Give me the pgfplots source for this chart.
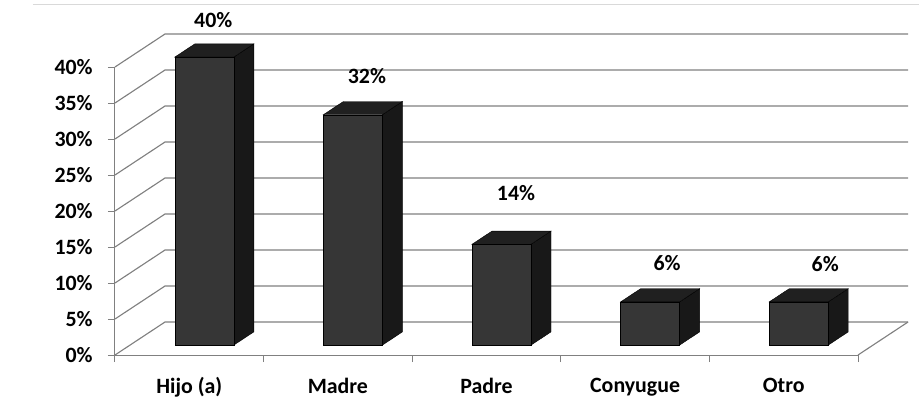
\documentclass[border=0pt]{standalone}
\usepackage{pgfplots}
\pgfplotsset{compat=1.18}
\usepackage{pgfplotstable}
\usepackage{fontspec}
\setmainfont{Carlito}
\definecolor{gl}{RGB}{128,128,128}
\definecolor{barfront}{RGB}{54,54,54}
\definecolor{barside}{RGB}{24,24,24}
\definecolor{bartop}{RGB}{32,32,32}
\definecolor{border}{RGB}{217,217,217}
\newdimen\barh
\pgfdeclareplotmark{bar3d}{%
  \barh=5.4pt \barh=\barval\barh
  \pgfsetlinewidth{0.3pt}%
  \pgfsetstrokecolor{black}%
  \pgfsetfillcolor{barside}%
  \pgfpathmoveto{\pgfqpoint{33.375pt}{7.425pt}}%
  \pgfpathlineto{\pgfqpoint{48.375pt}{17.325pt}}%
  \pgfpathlineto{\pgfqpoint{48.375pt}{\dimexpr17.325pt-\barh\relax}}%
  \pgfpathlineto{\pgfqpoint{33.375pt}{\dimexpr7.425pt-\barh\relax}}%
  \pgfpathclose
  \pgfusepath{fill,stroke}%
  \pgfsetfillcolor{bartop}%
  \pgfpathmoveto{\pgfqpoint{-10.875pt}{7.425pt}}%
  \pgfpathlineto{\pgfqpoint{4.125pt}{17.325pt}}%
  \pgfpathlineto{\pgfqpoint{48.375pt}{17.325pt}}%
  \pgfpathlineto{\pgfqpoint{33.375pt}{7.425pt}}%
  \pgfpathclose
  \pgfusepath{fill,stroke}%
  \pgfsetfillcolor{barfront}%
  \pgfpathrectanglecorners{\pgfqpoint{-10.875pt}{7.425pt}}{\pgfqpoint{33.375pt}{\dimexpr7.425pt-\barh\relax}}%
  \pgfusepath{fill,stroke}%
}
\pgfplotstableread{
x y lx ly
0 40 18 35.25
1 32 21.75 36.45
2 14 22.1 45.75
3 6 24 36.75
4 6 31.1 36
}\datatable
\newcommand\lbl{\fontsize{16.4}{19.7}\selectfont\bfseries}
\begin{document}
\begin{tikzpicture}
\useasboundingbox (-141.375pt,-33.75pt) rectangle (547.875pt,266.25pt);
\draw[border, line width=0.75pt] (-116.625pt,262.5pt) -- (547.875pt,262.5pt);
\begin{axis}[
  at={(-55.125pt,0pt)}, anchor=south west,
  x=111.45pt, y=5.4pt,
  xmin=-0.5, xmax=4.5, ymin=0, ymax=40,
  enlargelimits=false, clip=false,
  axis x line*=bottom, axis y line*=left,
  axis line style={gl, line width=0.75pt, -},
  tick align=outside, major tick length=5.25pt,
  tick style={gl, line width=0.75pt},
  ytick={0,5,10,15,20,25,30,35,40},
  yticklabels={0\%,5\%,10\%,15\%,20\%,25\%,30\%,35\%,40\%},
  yticklabel style={xshift=-8pt},
  xtick={-0.5,0.5,1.5,2.5,3.5,4.5},
  xticklabels={},
  extra x ticks={0,1,2,3,4},
  extra x tick labels={Hijo (a),Madre,Padre,Conyugue,Otro},
  extra x tick style={major tick length=0pt, xticklabel style={yshift=-13.5pt}},
  ticklabel style={font=\lbl, text=black},
]
\pgfplotsinvokeforeach{0,5,...,40}{
  \draw[gl, line width=0.85pt] (axis cs:-0.5,#1) -- (axis cs:-0.1635,#1+4.583) -- (axis cs:4.8365,#1+4.583);
}
\draw[gl, line width=0.85pt] (axis cs:4.5,0) -- (axis cs:4.8365,4.583);
\addplot[scatter, only marks, mark=bar3d,
  visualization depends on=rawy \as \barval,
  visualization depends on={\thisrow{lx} \as \lx},
  visualization depends on={\thisrow{ly} \as \ly},
  nodes near coords={\pgfmathprintnumber[fixed,precision=0,assume math mode=true]{\barval}\%},
  every node near coord/.append style={anchor=center, xshift=\lx pt, yshift=\ly pt, font=\lbl, text=black},
] table[x=x, y=y] {\datatable};
\end{axis}
\end{tikzpicture}
\end{document}
